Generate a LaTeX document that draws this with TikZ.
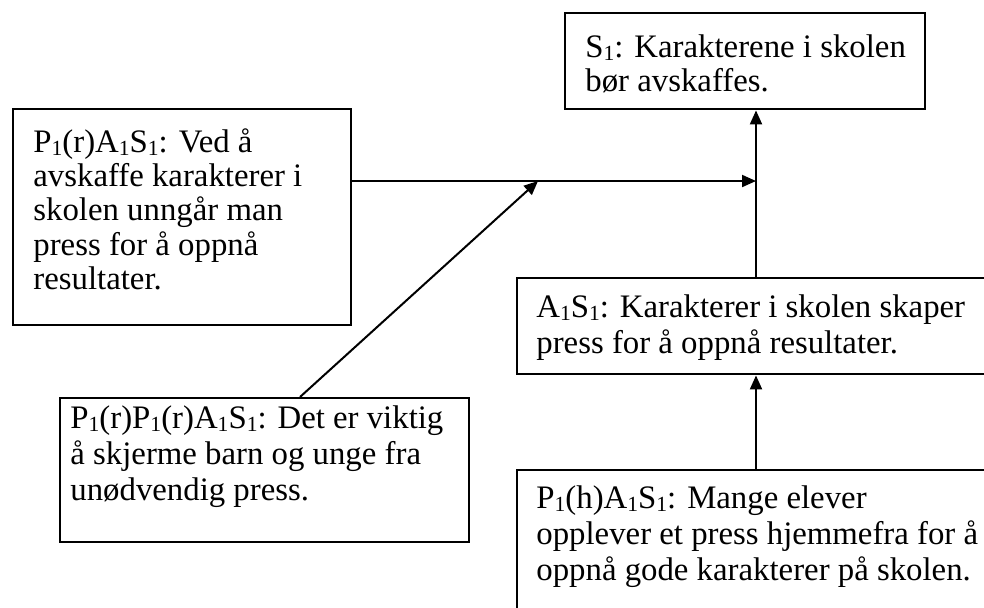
\documentclass[tikz,border=0pt]{standalone}
\usepackage{fontspec}
\setmainfont{Liberation Serif}
\usetikzlibrary{arrows.meta}
\newcommand\subone{\raisebox{-0.12em}{\fontsize{10.8}{10.8}\selectfont 1}}
\begin{document}
\begin{tikzpicture}[x=0.5pt,y=-0.5pt,
  box/.style={draw, line width=1.2pt, rectangle, inner sep=0pt, anchor=north west},
  txt/.style={anchor=base west, inner sep=0pt, font=\fontsize{16.4}{17.2}\selectfont},
  txtwide/.style={txt, font=\fontsize{16.4}{18.2}\selectfont},
  arr/.style={line width=1pt, -{Triangle[length=7pt,width=6pt]}}]
\useasboundingbox (0,0) rectangle (984,607);
\clip (0,0) rectangle (984,607);

% argument boxes
\node[box, minimum width=180pt, minimum height=48pt] (s1) at (564,12) {};
\node[box, minimum width=169pt, minimum height=108pt] (p1r) at (12,108) {};
\node[box, minimum width=300pt, minimum height=48pt] (a1s1) at (516,277) {};
\node[box, minimum width=204.5pt, minimum height=72pt] (bl) at (59,397) {};
\node[box, minimum width=300pt, minimum height=100pt] (p1h) at (516,469) {};

% box texts
\node[txt] (s1t) at (585,57) {\parbox[t]{200pt}{S\subone: Karakterene i skolen\\bør avskaffes.}};
\node[txt] (p1rt) at (33,152) {\parbox[t]{200pt}{P\subone(r)A\subone S\subone: Ved å\\avskaffe karakterer i\\skolen unngår man\\press for å oppnå\\resultater.}};
\node[txtwide] (a1s1t) at (536,317) {\parbox[t]{250pt}{A\subone S\subone: Karakterer i skolen skaper\\press for å oppnå resultater.}};
\node[txtwide] (blt) at (70,428) {\parbox[t]{250pt}{P\subone(r)P\subone(r)A\subone S\subone: Det er viktig\\å skjerme barn og unge fra\\unødvendig press.}};
\node[txtwide] (p1ht) at (536,508) {\parbox[t]{250pt}{P\subone(h)A\subone S\subone: Mange elever\\opplever et press hjemmefra for å\\oppnå gode karakterer på skolen.}};

% connectors
\coordinate (j) at (756,181);
\coordinate (d) at (538,181);
\coordinate (ds) at (300,397);
\draw[arr] (p1r.east |- j) -- (j);
\draw[arr] (a1s1.north -| j) -- (s1.south -| j);
\draw[arr] (ds) -- (d);
\draw[arr] (p1h.north -| j) -- (a1s1.south -| j);
\end{tikzpicture}
\end{document}
